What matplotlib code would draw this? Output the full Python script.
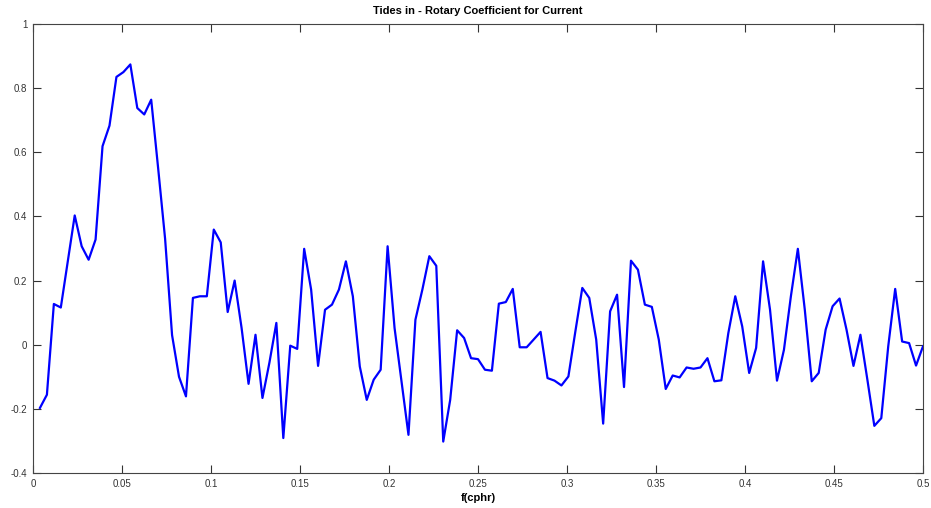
import matplotlib
matplotlib.use("Agg")
import matplotlib.pyplot as plt
import numpy as np

# frequency grid: 128 bins, k/256 cycles per hour
k = np.arange(1, 129)
freq = k / 256.0

rotary = [
    -0.197, -0.156, 0.127, 0.116, 0.26, 0.403, 0.307, 0.265, 0.328, 0.619,
    0.683, 0.835, 0.85, 0.874, 0.738, 0.718, 0.764, 0.55, 0.33, 0.03,
    -0.10, -0.161, 0.146, 0.151, 0.151, 0.359, 0.319, 0.102, 0.2, 0.052,
    -0.122, 0.031, -0.166, -0.056, 0.068, -0.291, -0.003, -0.013, 0.299, 0.172,
    -0.066, 0.109, 0.125, 0.172, 0.26, 0.151, -0.068, -0.172, -0.109, -0.078,
    0.307, 0.052, -0.114, -0.281, 0.078, 0.172, 0.276, 0.246, -0.302, -0.172,
    0.045, 0.021, -0.042, -0.045, -0.078, -0.081, 0.128, 0.133, 0.174, -0.008,
    -0.008, 0.016, 0.04, -0.104, -0.112, -0.127, -0.099, 0.041, 0.177, 0.146,
    0.016, -0.246, 0.104, 0.156, -0.132, 0.262, 0.234, 0.125, 0.118, 0.016,
    -0.138, -0.096, -0.102, -0.071, -0.075, -0.071, -0.042, -0.114, -0.111, 0.036,
    0.151, 0.057, -0.088, -0.01, 0.26, 0.109, -0.112, -0.016, 0.151, 0.299,
    0.109, -0.114, -0.088, 0.047, 0.12, 0.144, 0.047, -0.066, 0.031, -0.109,
    -0.253, -0.229, -0.005, 0.174, 0.01, 0.005, -0.065, -0.005,
]

xticks = [0, 0.05, 0.1, 0.15, 0.2, 0.25, 0.3, 0.35, 0.4, 0.45, 0.5]
xlabels = ["0", "0.05", "0.1", "0.15", "0.2", "0.25", "0.3", "0.35", "0.4", "0.45", "0.5"]
yticks = [-0.4, -0.2, 0, 0.2, 0.4, 0.6, 0.8, 1]
ylabels = ["-0.4", "-0.2", "0", "0.2", "0.4", "0.6", "0.8", "1"]

plt.rcParams['font.family'] = ['Liberation Sans', 'DejaVu Sans']

fig = plt.figure(figsize=(9.31, 5.08), dpi=100)
ax = fig.add_axes([33/931, 35/508, 890/931, 449/508])

ax.plot(freq, rotary, color='#0000ff', lw=1.6)

ax.set_xlim(0, 0.5)
ax.set_ylim(-0.4, 1)
ax.set_xticks(xticks)
ax.set_xticklabels(xlabels)
ax.set_yticks(yticks)
ax.set_yticklabels(ylabels)
ax.tick_params(direction='in', top=True, right=True, length=6, width=0.8,
               labelsize=7, colors='#333333', pad=4)
for s in ax.spines.values():
    s.set_color('#444444')
    s.set_linewidth(0.8)

ax.set_title('Tides in - Rotary Coefficient for Current', fontsize=8,
             fontweight='bold', pad=7)
ax.set_xlabel('f(cphr)', fontsize=8, fontweight='bold', labelpad=3)

fig.savefig('out.png', dpi=100)
